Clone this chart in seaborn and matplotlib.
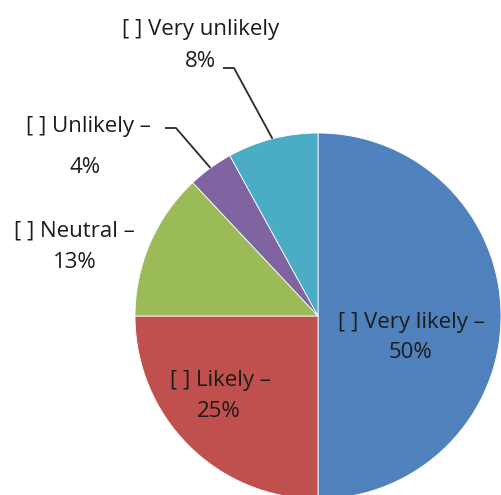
import numpy as np
import matplotlib
matplotlib.use("Agg")
import matplotlib.pyplot as plt
import seaborn as sns

sns.set_theme(style="white")
plt.rcParams["font.family"] = ["Open Sans", "DejaVu Sans"]

categories = ["Very likely", "Likely", "Neutral", "Unlikely", "Very unlikely"]
shares = [50, 25, 13, 4, 8]
colors = ["#4F81BD", "#C0504D", "#9BBB59", "#8064A2", "#4BACC6"]

W, H = 501, 495
fig = plt.figure(figsize=(W / 100, H / 100), dpi=100)
ax = fig.add_axes([0, 0, 1, 1])

cx, cy, r = 318, H - 316, 183
wedges, _ = ax.pie(shares, colors=colors, startangle=90, counterclock=False,
                   center=(cx, cy), radius=r, frame=True,
                   wedgeprops=dict(linewidth=0.6, edgecolor="white"))
ax.set_xlim(0, W)
ax.set_ylim(0, H)
ax.set_aspect("equal")
ax.axis("off")

txt = "#1c1c1c"
fs = 16

def edge_point(w):
    a = np.deg2rad((w.theta1 + w.theta2) / 2)
    return cx + r * np.cos(a), cy + r * np.sin(a)

# (name x, name baseline, value x, value baseline), pixels from the top
label_pos = {
    "Very likely": (411, 328, 411, 358),
    "Likely": (220, 386, 219, 417),
    "Neutral": (74, 237, 75, 268),
    "Unlikely": (88, 132, 85, 173),
    "Very unlikely": (201, 35, 200, 67),
}
# start of the leader line (short horizontal tick, then towards the slice)
leader_start = {
    "Unlikely": (165, 128),
    "Very unlikely": (223, 68),
}

for w, name, val in zip(wedges, categories, shares):
    nx, ny, vx, vy = label_pos[name]
    head = f"[ ] {name}" if name == "Very unlikely" else f"[ ] {name} –"
    ax.text(nx, H - ny, head, ha="center", va="baseline", fontsize=fs,
            color=txt)
    ax.text(vx, H - vy, f"{val}%", ha="center", va="baseline", fontsize=fs,
            color=txt)
    if name in leader_start:
        sx, sy = leader_start[name]
        ex, ey = edge_point(w)
        ax.plot([sx, sx + 11, ex], [H - sy, H - sy, ey], color="#2a2a2a",
                lw=1.3, solid_capstyle="butt")

fig.savefig("out.png", dpi=100, facecolor="white")
